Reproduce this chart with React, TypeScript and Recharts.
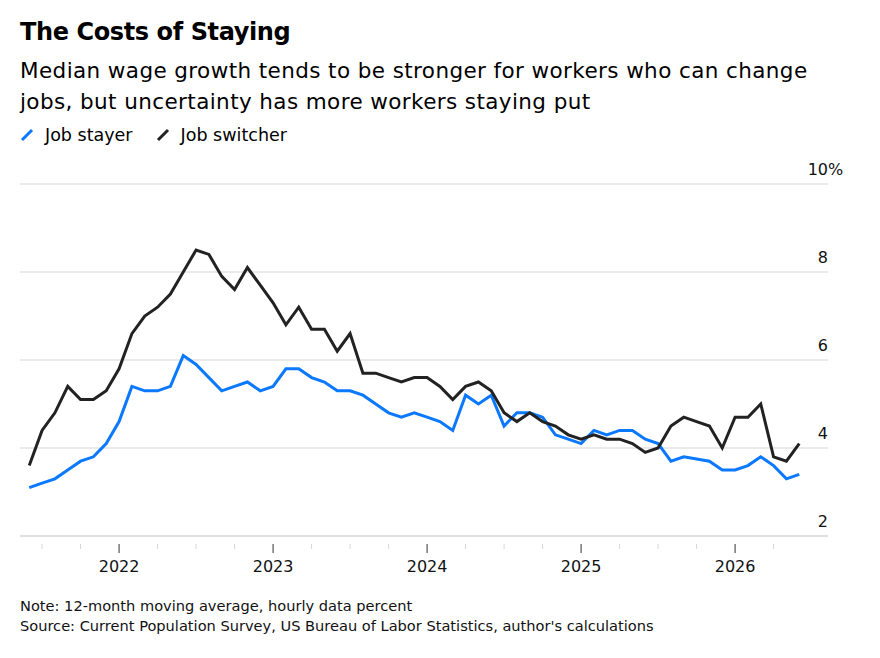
import { CartesianGrid, Line, LineChart, XAxis, YAxis } from "recharts";

// monthly, Jun 2021 .. Jun 2026
const months = [
  "2021-06", "2021-07", "2021-08", "2021-09", "2021-10", "2021-11", "2021-12",
  "2022-01", "2022-02", "2022-03", "2022-04", "2022-05", "2022-06", "2022-07",
  "2022-08", "2022-09", "2022-10", "2022-11", "2022-12", "2023-01", "2023-02",
  "2023-03", "2023-04", "2023-05", "2023-06", "2023-07", "2023-08", "2023-09",
  "2023-10", "2023-11", "2023-12", "2024-01", "2024-02", "2024-03", "2024-04",
  "2024-05", "2024-06", "2024-07", "2024-08", "2024-09", "2024-10", "2024-11",
  "2024-12", "2025-01", "2025-02", "2025-03", "2025-04", "2025-05", "2025-06",
  "2025-07", "2025-08", "2025-09", "2025-10", "2025-11", "2025-12", "2026-01",
  "2026-02", "2026-03", "2026-04", "2026-05", "2026-06",
];

const jobStayer = [
  3.1, 3.2, 3.3, 3.5, 3.7, 3.8, 4.1, 4.6, 5.4, 5.3, 5.3, 5.4, 6.1, 5.9, 5.6,
  5.3, 5.4, 5.5, 5.3, 5.4, 5.8, 5.8, 5.6, 5.5, 5.3, 5.3, 5.2, 5.0, 4.8, 4.7,
  4.8, 4.7, 4.6, 4.4, 5.2, 5.0, 5.2, 4.5, 4.8, 4.8, 4.7, 4.3, 4.2, 4.1, 4.4,
  4.3, 4.4, 4.4, 4.2, 4.1, 3.7, 3.8, 3.75, 3.7, 3.5, 3.5, 3.6, 3.8, 3.6, 3.3,
  3.4,
];

const jobSwitcher = [
  3.6, 4.4, 4.8, 5.4, 5.1, 5.1, 5.3, 5.8, 6.6, 7.0, 7.2, 7.5, 8.0, 8.5, 8.4,
  7.9, 7.6, 8.1, 7.7, 7.3, 6.8, 7.2, 6.7, 6.7, 6.2, 6.6, 5.7, 5.7, 5.6, 5.5,
  5.6, 5.6, 5.4, 5.1, 5.4, 5.5, 5.3, 4.8, 4.6, 4.8, 4.6, 4.5, 4.3, 4.2, 4.3,
  4.2, 4.2, 4.1, 3.9, 4.0, 4.5, 4.7, 4.6, 4.5, 4.0, 4.7, 4.7, 5.0, 3.8, 3.7,
  4.1,
];

const yTicks = [2, 4, 6, 8, 10];
// quarter ticks, Jul 2021 .. Apr 2026 (index into months)
const xTicks = months
  .map((m, i) => ({ m, i }))
  .filter(({ m, i }) => i > 0 && i <= 58 && ["01", "04", "07", "10"].includes(m.slice(5)))
  .map(({ i }) => i);

const data = months.map((m, i) => ({
  idx: i,
  month: m,
  stayer: jobStayer[i],
  switcher: jobSwitcher[i],
}));

const FONT = "'DejaVu Sans', 'Liberation Sans', Arial, sans-serif";
const BLUE = "#0a78ff";
const BLACK = "#222222";
const GRID = "#d6d6d6";

function XTick(props: any) {
  const { x, y, payload } = props;
  const m = months[payload.value];
  const major = m.endsWith("-01");
  return (
    <g>
      <line x1={x} x2={x} y1={y} y2={y + (major ? 9 : 5)} stroke={major ? "#333" : GRID} strokeWidth={1} />
      {major && (
        <text x={x} y={y + 28} textAnchor="middle" fontSize={16} fill="#111" fontFamily={FONT}>
          {m.slice(0, 4)}
        </text>
      )}
    </g>
  );
}

function YTick(props: any) {
  const { x, y, payload } = props;
  return (
    <g>
      <text x={x} y={y - 9} textAnchor="end" fontSize={16} fill="#111" fontFamily={FONT}>
        {payload.value}
      </text>
      {payload.value === 10 && (
        <text x={x} y={y - 9} textAnchor="start" fontSize={16} fill="#111" fontFamily={FONT}>
          %
        </text>
      )}
    </g>
  );
}

function LegendMark({ color }: { color: string }) {
  return (
    <svg width={14} height={14} style={{ marginRight: 11, verticalAlign: "-1px" }}>
      <line x1={2} y1={12} x2={12} y2={2} stroke={color} strokeWidth={3} />
    </svg>
  );
}

export default function App() {
  return (
    <div
      style={{
        position: "absolute",
        left: 0,
        top: 0,
        width: 880,
        height: 658,
        background: "#fff",
        fontFamily: FONT,
        color: "#000",
      }}
    >
      <div style={{ position: "absolute", left: 20, top: 18, fontSize: 24, fontWeight: 700, letterSpacing: -0.4 }}>
        The Costs of Staying
      </div>
      <div style={{ position: "absolute", left: 20, top: 55, fontSize: 21.5, lineHeight: "31px", width: 860, letterSpacing: 0.4 }}>
        Median wage growth tends to be stronger for workers who can change
        <br />
        jobs, but uncertainty has more workers staying put
      </div>
      <div style={{ position: "absolute", left: 20, top: 125, fontSize: 17.5, display: "flex", alignItems: "center" }}>
        <LegendMark color={BLUE} />
        <span style={{ marginRight: 23 }}>Job stayer</span>
        <LegendMark color={BLACK} />
        <span>Job switcher</span>
      </div>

      <div style={{ position: "absolute", left: 0, top: 0 }}>
        <LineChart
          width={880}
          height={658}
          data={data}
          margin={{ top: 184, right: 0, left: 20, bottom: 92 }}
        >
          <CartesianGrid horizontal vertical={false} stroke={GRID} strokeWidth={1.2} />
          <XAxis
            dataKey="idx"
            type="number"
            domain={[-0.72, 62.24]}
            ticks={xTicks}
            tick={<XTick />}
            tickLine={false}
            axisLine={{ stroke: GRID, strokeWidth: 1.2 }}
            height={30}
            interval={0}
            allowDataOverflow
          />
          <YAxis
            orientation="right"
            type="number"
            domain={[2, 10]}
            ticks={yTicks}
            tick={<YTick />}
            tickLine={false}
            axisLine={false}
            tickSize={0}
            tickMargin={0}
            width={52}
            interval={0}
          />
          <Line
            dataKey="stayer"
            stroke={BLUE}
            strokeWidth={3}
            dot={false}
            isAnimationActive={false}
            strokeLinejoin="miter"
          />
          <Line
            dataKey="switcher"
            stroke={BLACK}
            strokeWidth={3}
            dot={false}
            isAnimationActive={false}
            strokeLinejoin="miter"
          />
        </LineChart>
      </div>

      <div style={{ position: "absolute", left: 20, top: 596, fontSize: 14.6, lineHeight: "20px", color: "#111" }}>
        Note: 12-month moving average, hourly data percent
        <br />
        Source: Current Population Survey, US Bureau of Labor Statistics, author's calculations
      </div>
    </div>
  );
}
